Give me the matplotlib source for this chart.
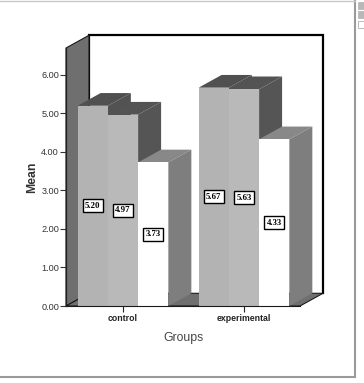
import matplotlib
matplotlib.use("Agg")
import matplotlib.pyplot as plt
from matplotlib.patches import Polygon, Rectangle
from matplotlib.lines import Line2D

# ---- data ----
groups = ["control", "experimental"]
series1 = [5.20, 5.67]
series2 = [4.97, 5.63]
series3 = [3.73, 4.33]
value_labels = [["5.20", "5.67"], ["4.97", "5.63"], ["3.73", "4.33"]]
yticks = [0, 1, 2, 3, 4, 5, 6]
ytick_labels = ["0.00", "1.00", "2.00", "3.00", "4.00", "5.00", "6.00"]

# ---- style ----
W, H = 364, 383
front_cols = ["#b3b3b3", "#b9b9b9", "#ffffff"]
top_cols = ["#505050", "#535353", "#888888"]
side_cols = ["#525252", "#555555", "#7e7e7e"]
wall_col = "#6f6f6f"
BW = 0.25           # bar width (category units)
DX, DY = 0.19, 0.33  # oblique depth offset in data units
XMIN, XMAX = -0.471, 1.463
YMAX = 6.7

plt.rcParams['font.family'] = ['Liberation Sans', 'DejaVu Sans']
fig = plt.figure(figsize=(W / 100, H / 100), dpi=100)
fig.patch.set_facecolor("white")

ax = fig.add_axes([66 / W, (H - 306) / H, 234 / W, (306 - 48) / H])
ax.set_xlim(XMIN, XMAX)
ax.set_ylim(0, YMAX)
ax.set_facecolor("none")
for s in ["top", "right", "bottom"]:
    ax.spines[s].set_visible(False)
ax.spines["left"].set_linewidth(0.9)
ax.spines["left"].set_color("#222222")

def poly(pts, fc, ec="none", lw=0, z=1):
    p = Polygon(pts, closed=True, fc=fc, ec=ec, lw=lw, zorder=z, clip_on=False,
                joinstyle="miter")
    ax.add_patch(p)
    return p

# back wall
poly([(XMIN + DX, DY), (XMAX + DX, DY), (XMAX + DX, YMAX + DY), (XMIN + DX, YMAX + DY)],
     "white", z=0.5)
ax.plot([XMIN + DX, XMIN + DX, XMAX + DX, XMAX + DX],
        [DY, YMAX + DY, YMAX + DY, DY], color="black", lw=1.6, zorder=0.6,
        clip_on=False, solid_joinstyle="miter")
# left wall
poly([(XMIN, 0), (XMIN + DX, DY), (XMIN + DX, YMAX + DY), (XMIN, YMAX)],
     wall_col, ec="#1a1a1a", lw=0.8, z=0.7)
# floor
poly([(XMIN, 0), (XMIN + DX, DY), (XMAX + DX, DY), (XMAX, 0)],
     wall_col, ec="#1a1a1a", lw=0.8, z=0.7)

# bars (painter's order: left to right)
all_series = [series1, series2, series3]
for gi in range(len(groups)):
    for si, ser in enumerate(all_series):
        v = ser[gi]
        x0 = gi + (si - 1.5) * BW
        x1 = x0 + BW
        z = 2 + gi * 3 + si
        # top face
        poly([(x0, v), (x1, v), (x1 + DX, v + DY), (x0 + DX, v + DY)], top_cols[si], z=z)
        # right side face
        poly([(x1, 0), (x1 + DX, DY), (x1 + DX, v + DY), (x1, v)], side_cols[si], z=z)
        # front face
        ax.add_patch(Rectangle((x0, 0), BW, v, fc=front_cols[si], ec="none",
                               zorder=z + 0.1, clip_on=False))
        ax.text(x0 + BW / 2, v / 2, value_labels[si][gi], ha="center", va="center",
                fontsize=6.3, fontweight="bold", family=["Liberation Serif", "DejaVu Serif"],
                zorder=20,
                bbox=dict(boxstyle="square,pad=0.28", fc="white", ec="black", lw=1.0))

# front floor edge (x axis)
ax.plot([XMIN, XMAX], [0, 0], color="#1a1a1a", lw=0.8, zorder=15, clip_on=False)

ax.set_yticks(yticks)
ax.set_yticklabels(ytick_labels)
ax.set_xticks(range(len(groups)))
ax.set_xticklabels(groups)
ax.tick_params(axis="y", length=4, width=0.8, pad=1, labelsize=6.6, colors="#333333")
ax.tick_params(axis="x", length=4, width=0.8, pad=1.5, labelsize=6.3, colors="#222222")
for lab in ax.get_xticklabels():
    lab.set_fontweight("bold")
ax.set_ylabel("Mean", fontsize=8.8, fontweight="bold", color="#333333", labelpad=2)
ax.set_xlabel("Groups", fontsize=8.8, color="#444444", labelpad=7)

# outer frame lines
fig.add_artist(Line2D([0, 355 / W], [1 - 377 / H, 1 - 377 / H], transform=fig.transFigure,
                      color="#9a9a9a", lw=1.5))
fig.add_artist(Line2D([355 / W, 355 / W], [1 - 377 / H, 1], transform=fig.transFigure,
                      color="#9a9a9a", lw=1.5))
fig.add_artist(Line2D([0, 355 / W], [1 - 0.5 / H, 1 - 0.5 / H], transform=fig.transFigure,
                      color="#c8c8c8", lw=1))
# small window swatches at top right
for (yy, fc, ec) in [(2, "#b8b8b8", "#b8b8b8"), (11, "#b8b8b8", "#b8b8b8"), (21, "white", "#b0b0b0")]:
    fig.add_artist(Rectangle((358 / W, 1 - (yy + 7) / H), 6 / W, 7 / H,
                             transform=fig.transFigure, fc=fc, ec=ec, lw=0.6))

fig.savefig("out.png", dpi=100)
